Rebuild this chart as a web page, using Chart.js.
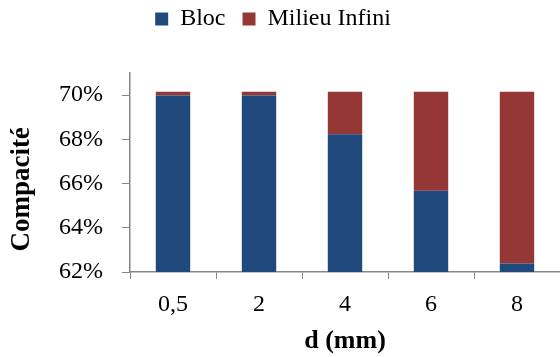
<!DOCTYPE html>
<html>
<head>
<meta charset="utf-8">
<script src="https://cdn.jsdelivr.net/npm/chart.js@4/dist/chart.umd.min.js"></script>
<style>
  body { margin: 0; background: #fff; }
</style>
</head>
<body>
<canvas id="myChart" width="560" height="357"></canvas>
<script>
var categories = ['0,5', '2', '4', '6', '8']
var bloc = [69.98, 69.98, 68.23, 65.67, 62.38]
var milieuInfini = [0.17, 0.17, 1.92, 4.48, 7.77]
var yTicks = [62, 64, 66, 68, 70]

var font = "'Liberation Serif', 'Times New Roman', serif"
var axisColor = '#868686'

// make room under the legend, then nudge the legend itself up/left
var legendMargin = {
  id: 'legendMargin',
  beforeInit: function(chart) {
    var fit = chart.legend.fit
    chart.legend.fit = function() {
      fit.call(this)
      this.height += 22
    }
  },
  afterLayout: function(chart) {
    var lg = chart.legend
    lg.top -= 10
    lg.bottom -= 10
    lg.left -= 7
    lg.right -= 7
  }
}

var ctx = document.getElementById('myChart').getContext('2d')
var chart = new Chart(ctx, {
  type: 'bar',
  data: {
    labels: categories,
    datasets: [
      {
        label: 'Bloc',
        data: bloc,
        backgroundColor: '#1F497D',
        borderWidth: 0
      },
      {
        label: 'Milieu Infini',
        data: milieuInfini,
        backgroundColor: '#953735',
        borderWidth: 0
      }
    ]
  },
  options: {
    responsive: false,
    animation: false,
    layout: { padding: 0 },
    datasets: {
      bar: { categoryPercentage: 1, barPercentage: 0.4 }
    },
    plugins: {
      tooltip: { enabled: false },
      legend: {
        position: 'top',
        labels: {
          boxWidth: 13,
          boxHeight: 13,
          padding: 17,
          color: '#000',
          font: { family: font, size: 24 }
        }
      }
    },
    scales: {
      x: {
        stacked: true,
        grid: {
          drawOnChartArea: false,
          tickLength: 7,
          color: axisColor,
          offset: true
        },
        border: { color: axisColor, width: 1.5 },
        ticks: {
          color: '#000',
          padding: 11,
          font: { family: font, size: 24 }
        },
        title: {
          display: true,
          text: 'd (mm)',
          color: '#000',
          font: { family: font, size: 26, weight: 'bold' },
          padding: { top: 0, bottom: 0 }
        },
        afterFit: function(scale) { scale.height = 85 }
      },
      y: {
        stacked: true,
        min: 62,
        max: 71,
        grid: {
          drawOnChartArea: false,
          tickLength: 8,
          color: axisColor
        },
        border: { color: axisColor, width: 1.5 },
        ticks: {
          color: '#000',
          padding: 19,
          font: { family: font, size: 24 },
          callback: function(v) { return v + '%' }
        },
        afterBuildTicks: function(scale) {
          scale.ticks = yTicks.map(function(v) { return { value: v } })
        },
        title: {
          display: true,
          // trailing spaces push the visible word a bit lower, like the original
          text: 'Compacité     ',
          color: '#000',
          font: { family: font, size: 27, weight: 'bold' },
          padding: { top: 6, bottom: 0 }
        },
        afterFit: function(scale) { scale.width = 130 }
      }
    }
  },
  plugins: [legendMargin]
})
</script>
</body>
</html>
